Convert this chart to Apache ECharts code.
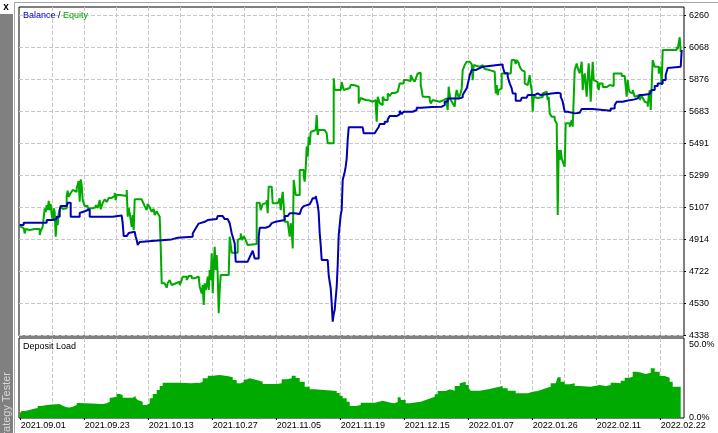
<!DOCTYPE html>
<html><head><meta charset="utf-8">
<script src="https://cdn.jsdelivr.net/npm/echarts@6/dist/echarts.min.js"></script>
<style>html,body{margin:0;padding:0;background:#fff;}#c{width:718px;height:433px;}</style>
</head><body><div id="c"></div>
<script>
// ---- data ----
const dateLabels = ['2021.09.01','2021.09.23','2021.10.13','2021.10.27','2021.11.05','2021.11.19','2021.12.15','2022.01.07','2022.01.26','2022.02.11','2022.02.22'];
const dateDeals = [0,64,128,192,256,320,384,448,512,576,640];
const gridDeals = [32,64,96,128,160,192,224,256,288,320,352,384,416,448,480,512,544,576,608,640];
const equityTicks = [4338,4530,4722,4914,5107,5299,5491,5683,5876,6068,6260];
const loadTicks = [0,50];

const balance = [[-1,5000],[3,5014],[26,5030],[32,5036],[36,5050],[39,5090],[40,5114],[46,5126],[47,5134],[50,5050],[59,5073],[61,5083],[64,5090],[66,5095],[69,5050],[92,5054],[97,5057],[101,5060],[102,5011],[103,4934],[106,4940],[108,4952],[110,4960],[114,4970],[115,4930],[116,4910],[117,4880],[119,4898],[121,4906],[134,4914],[151,4924],[157,4930],[172,4950],[174,4970],[176,4990],[178,5009],[180,5020],[184,5030],[187,5036],[196,5041],[197,5054],[202,5042],[204,5036],[207,5024],[209,5011],[210,4982],[211,4951],[213,4910],[214,4890],[215,4780],[227,4790],[229,4808],[231,4832],[232,4846],[234,4800],[238,4930],[239,4984],[245,4994],[249,5000],[251,5012],[252,5020],[255,5030],[264,5054],[267,5063],[269,5071],[274,5077],[276,5066],[279,5078],[281,5101],[283,5114],[284,5125],[289,5134],[291,5148],[292,5161],[295,5175],[297,5121],[298,5073],[299,4952],[300,4880],[301,4790],[307,4794],[308,4700],[309,4658],[310,4620],[311,4530],[312,4420],[313,4466],[314,4490],[315,4562],[316,4630],[317,4760],[318,4940],[320,5060],[321,5090],[322,5271],[324,5319],[325,5351],[326,5401],[327,5511],[328,5587],[342,5581],[343,5551],[354,5562],[356,5571],[358,5589],[359,5607],[364,5621],[367,5635],[369,5655],[376,5665],[379,5687],[381,5667],[383,5681],[392,5691],[396,5705],[401,5709],[411,5711],[421,5721],[424,5741],[427,5761],[439,5767],[442,5781],[444,5802],[446,5821],[448,5871],[449,5901],[451,5931],[455,5943],[459,5951],[462,5961],[477,5951],[479,5964],[482,5951],[484,5912],[487,5891],[489,5851],[491,5821],[492,5791],[495,5747],[500,5757],[501,5765],[506,5771],[507,5781],[514,5791],[517,5781],[520,5791],[531,5795],[537,5791],[540,5771],[542,5741],[544,5681],[547,5671],[554,5675],[559,5681],[561,5697],[572,5705],[574,5687],[590,5701],[594,5721],[596,5741],[602,5747],[606,5755],[614,5761],[617,5771],[619,5781],[622,5787],[629,5791],[631,5811],[634,5835],[637,5851],[642,5871],[645,5901],[647,5943],[649,5951],[660,5951],[661,6052]];

const equity = [[-1,4994],[1,4982],[3,4987],[4,4950],[5,4976],[7,4970],[9,4958],[11,4976],[14,4964],[16,4976],[19,4940],[20,4964],[22,4990],[24,5101],[25,5078],[26,5120],[27,5090],[28,5146],[29,5090],[30,5127],[31,5060],[32,5030],[33,5101],[34,5078],[35,4930],[36,5030],[37,5000],[38,5071],[40,5110],[42,5097],[44,5101],[46,5175],[47,5206],[48,5170],[50,5193],[52,5211],[54,5199],[56,5221],[58,5265],[59,5140],[60,5275],[61,5241],[62,5150],[64,5114],[67,5101],[72,5107],[75,5121],[77,5103],[79,5150],[80,5095],[82,5133],[84,5155],[86,5139],[88,5163],[91,5175],[94,5194],[95,5150],[96,5181],[99,5175],[106,5211],[107,5050],[108,5103],[109,5071],[111,4990],[112,5060],[113,4970],[114,5155],[121,5158],[122,5140],[124,5114],[126,5090],[127,5127],[129,5107],[131,5080],[133,5097],[134,5060],[136,5084],[137,5071],[139,5050],[140,4870],[141,4650],[144,4640],[146,4624],[147,4652],[149,4670],[151,4640],[153,4652],[156,4660],[159,4640],[161,4670],[162,4690],[166,4670],[168,4694],[171,4680],[174,4691],[178,4690],[179,4630],[181,4590],[182,4640],[183,4520],[184,4650],[185,4610],[186,4640],[187,4690],[188,4610],[189,4730],[190,4670],[191,4830],[192,4590],[193,4760],[194,4870],[195,4730],[196,4820],[197,4700],[198,4470],[199,4610],[200,4700],[208,4706],[209,4930],[210,4940],[211,4834],[217,4910],[219,4922],[220,4950],[221,4910],[223,4934],[225,4910],[227,4880],[229,4886],[236,5134],[239,5131],[240,5090],[242,5126],[244,5133],[246,5150],[247,5071],[248,5231],[251,5221],[252,5131],[257,5120],[259,5161],[260,5090],[261,5150],[262,5200],[263,5120],[264,5020],[267,5018],[269,4930],[270,5011],[271,4970],[272,4860],[273,5271],[275,5181],[279,5331],[283,5295],[284,5261],[285,5341],[286,5471],[287,5411],[288,5531],[289,5481],[290,5559],[291,5571],[295,5581],[296,5661],[297,5541],[298,5571],[304,5581],[306,5551],[307,5491],[313,5882],[314,5811],[320,5815],[321,5859],[322,5835],[323,5811],[325,5823],[329,5811],[330,5841],[333,5831],[338,5731],[340,5763],[342,5751],[345,5763],[347,5748],[349,5741],[352,5751],[355,5721],[356,5621],[357,5771],[359,5733],[361,5721],[362,5771],[364,5751],[367,5791],[369,5775],[371,5793],[374,5801],[377,5811],[379,5851],[383,5871],[386,5882],[388,5865],[390,5901],[392,5877],[394,5861],[396,5895],[397,5911],[399,5915],[400,5841],[401,5811],[402,5771],[405,5781],[407,5769],[409,5751],[410,5731],[412,5751],[414,5741],[419,5751],[423,5761],[426,5733],[427,5691],[428,5831],[429,5781],[430,5751],[432,5731],[434,5711],[435,5781],[436,5811],[438,5763],[440,5793],[441,5821],[442,5931],[444,5961],[446,5981],[449,5972],[451,5967],[452,5871],[453,5961],[455,5951],[459,5961],[462,5951],[464,5937],[466,5931],[469,5925],[471,5921],[474,5915],[475,5791],[476,5841],[477,5781],[478,5811],[480,5821],[481,5911],[490,5901],[491,5991],[494,5979],[495,5967],[496,5991],[498,5973],[499,5951],[501,5931],[502,5921],[504,5851],[506,5841],[507,5831],[508,5871],[509,5901],[510,5841],[511,5811],[512,5681],[513,5771],[515,5763],[517,5775],[519,5769],[522,5791],[524,5801],[526,5811],[527,5751],[528,5771],[529,5671],[531,5651],[534,5631],[536,5611],[537,5060],[538,5451],[539,5391],[540,5451],[541,5403],[542,5381],[544,5351],[545,5611],[549,5589],[551,5631],[552,5591],[554,5931],[556,5971],[557,5943],[559,5911],[561,5981],[562,5811],[563,5883],[564,5911],[566,5771],[567,5883],[568,5971],[569,5871],[570,5741],[571,5871],[572,5981],[573,5871],[575,5859],[577,5835],[578,5811],[579,5851],[582,5829],[586,5841],[589,5851],[591,5835],[593,5911],[601,5895],[604,5901],[606,5771],[607,5871],[608,5821],[609,5799],[611,5791],[612,5811],[614,5771],[616,5781],[619,5751],[621,5781],[622,5763],[624,5741],[626,5733],[627,5711],[628,5775],[629,5811],[630,5691],[632,5991],[634,5951],[638,5911],[640,5951],[641,5841],[642,6052],[656,6071],[657,6057],[658,6092],[659,6128],[660,6041],[661,6052]];

const depositLoad = [[-1,3.2],[1,4.8],[4,5.5],[9,6.2],[12,6.8],[17,8.2],[21,8.9],[26,9.2],[32,9.6],[39,8.4],[42,7.3],[46,7.2],[49,7.7],[52,8.9],[56,10.3],[59,9.6],[82,10.1],[86,11.2],[89,13.7],[91,14.6],[96,16.4],[99,15.8],[102,13.9],[112,15.1],[115,13.7],[117,12.3],[119,11.2],[122,8.9],[126,10.1],[129,13.5],[132,16.4],[136,19.2],[139,21.9],[142,24.2],[159,23.8],[171,24.2],[176,24.0],[179,24.9],[182,27.2],[187,29.0],[192,29.5],[199,28.8],[206,28.4],[209,27.9],[212,26.0],[216,23.8],[220,24.7],[223,26.4],[226,27.2],[229,26.0],[236,24.9],[242,23.3],[256,23.8],[261,26.5],[266,27.2],[271,29.0],[275,27.4],[279,24.9],[284,21.4],[289,19.7],[294,18.5],[316,17.1],[319,15.3],[322,13.5],[326,11.2],[329,8.2],[335,8.9],[340,10.5],[354,11.8],[362,11.0],[367,10.5],[370,10.1],[374,11.0],[377,14.2],[380,12.3],[385,10.1],[389,11.2],[400,12.3],[405,13.5],[410,14.6],[414,16.2],[417,18.5],[425,19.7],[429,18.7],[434,21.9],[439,23.8],[441,24.9],[445,22.6],[448,20.5],[450,18.7],[459,19.9],[469,20.3],[472,21.4],[479,21.9],[482,20.3],[487,18.7],[495,16.9],[507,18.0],[512,18.5],[517,19.2],[520,20.3],[525,21.4],[530,23.8],[535,24.9],[537,27.9],[540,24.9],[544,23.1],[549,23.8],[554,21.9],[559,21.4],[570,22.6],[579,21.9],[585,22.6],[590,24.2],[595,23.8],[600,25.5],[604,27.6],[609,28.3],[612,31.7],[616,31.2],[620,30.1],[625,31.0],[630,34.0],[634,31.7],[639,28.8],[644,27.6],[649,24.9],[652,21.4],[660,21.4]];

// ---- chart ----
const F = "'Liberation Sans', Arial, sans-serif";
const BLUE = '#0000B4', GREEN = '#00AA00';
const dash = {show:true, lineStyle:{color:'#C8C8C8', type:[4,2], width:1}};
const chart = echarts.init(document.getElementById('c'), null, {renderer:'canvas'});
chart.setOption({
  animation:false,
  backgroundColor:'#fff',
  textStyle:{fontFamily:F},
  title:[
    {text:'{b|Balance} / {e|Equity}', left:23, top:11, padding:0,
     textStyle:{fontSize:9, fontWeight:'normal', color:'#000', fontFamily:F,
       rich:{b:{color:'#0000C8', fontSize:9, fontFamily:F}, e:{color:GREEN, fontSize:9, fontFamily:F}}}},
    {text:'Deposit Load', left:23, top:342, padding:0,
     textStyle:{fontSize:9, fontWeight:'normal', color:'#000', fontFamily:F}}
  ],
  grid:[
    {left:19, top:7, width:665, height:329, show:true, borderColor:'#000', borderWidth:1, backgroundColor:'transparent', outerBoundsMode:'none'},
    {left:19, top:338, width:665, height:80, show:true, borderColor:'#000', borderWidth:1, backgroundColor:'transparent', outerBoundsMode:'none'}
  ],
  xAxis:[
    {type:'value', gridIndex:0, min:-1.7, max:663.3, axisLine:{show:false, onZero:false}, axisLabel:{show:false},
     axisTick:{show:false, customValues:gridDeals}, splitLine:dash},
    {type:'value', gridIndex:1, min:-1.7, max:663.3, position:'bottom', axisLine:{show:false, onZero:false}, splitLine:{show:false},
     axisTick:{show:true, inside:false, length:2, lineStyle:{color:'#000'}, customValues:dateDeals},
     axisLabel:{show:true, customValues:dateDeals, align:'left', margin:3, fontSize:9, fontFamily:F, color:'#000',
       formatter:(v)=>dateLabels[dateDeals.indexOf(Math.round(v))] || ''}},
    {type:'value', gridIndex:1, min:-1.7, max:663.3, position:'bottom', axisLine:{show:false, onZero:false}, axisLabel:{show:false},
     axisTick:{show:false, customValues:gridDeals}, splitLine:dash}
  ],
  yAxis:[
    {type:'value', gridIndex:0, position:'right', min:4333.8, max:6309.9, axisLine:{show:false, onZero:false},
     axisTick:{show:true, inside:false, length:2, lineStyle:{color:'#000'}, customValues:equityTicks},
     axisLabel:{customValues:equityTicks, margin:5, fontSize:9, fontFamily:F, color:'#000', formatter:(v)=>String(v)},
     splitLine:dash},
    {type:'value', gridIndex:1, position:'right', min:0, max:54.79, axisLine:{show:false, onZero:false},
     axisTick:{show:false, customValues:loadTicks},
     axisLabel:{customValues:loadTicks, margin:5, fontSize:9, fontFamily:F, color:'#000', formatter:(v)=>v.toFixed(1)+'%'},
     splitLine:{show:false}}
  ],
  series:[
    {type:'line', name:'Equity', xAxisIndex:0, yAxisIndex:0, data:equity, step:'end', showSymbol:false, symbol:'none',
     lineStyle:{color:GREEN, width:2}, z:2},
    {type:'line', name:'Balance', xAxisIndex:0, yAxisIndex:0, data:balance, step:'end', showSymbol:false, symbol:'none',
     lineStyle:{color:BLUE, width:2}, z:3},
    {type:'line', name:'Deposit Load', xAxisIndex:1, yAxisIndex:1, data:depositLoad, step:'end', showSymbol:false, symbol:'none',
     lineStyle:{color:GREEN, width:0}, areaStyle:{color:GREEN, opacity:1}, z:2}
  ],
  graphic:[
    {type:'rect', shape:{x:0, y:14, width:13, height:419}, style:{fill:'#808080'}, z:10},
    {type:'text', x:7, y:372, rotation:Math.PI/2, z:11,
     style:{text:'Strategy Tester', fill:'#d8d8d8', font:'11px '+F, align:'right', textAlign:'right', verticalAlign:'middle', textVerticalAlign:'middle'}},
    {type:'line', shape:{x1:14, y1:2.5, x2:718, y2:2.5}, style:{stroke:'#a8a8a8', lineWidth:1}, z:10},
    {type:'line', shape:{x1:14.5, y1:2, x2:14.5, y2:433}, style:{stroke:'#a8a8a8', lineWidth:1}, z:10},
    {type:'text', x:6, y:7, z:11,
     style:{text:'x', fill:'#000', font:'bold 10px '+F, align:'center', textAlign:'center', verticalAlign:'middle', textVerticalAlign:'middle'}}
  ]
});
</script>
</body></html>
